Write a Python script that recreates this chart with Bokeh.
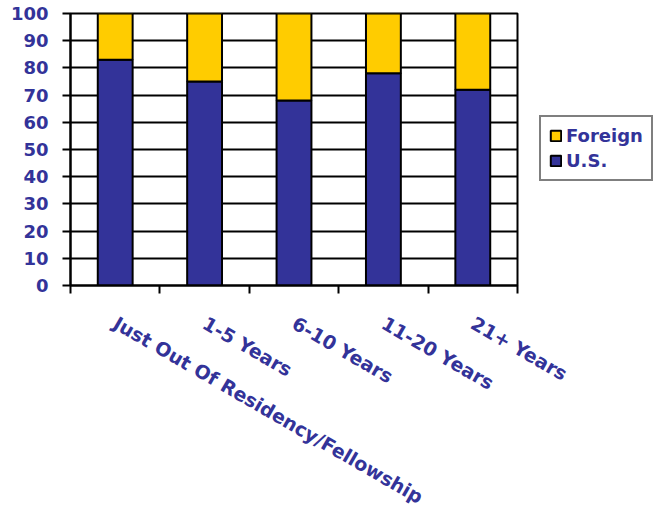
import math
from bokeh.plotting import figure
from bokeh.models import (ColumnDataSource, Range1d, LinearAxis, FixedTicker,
                          Legend, LegendItem, Grid)
from bokeh.embed import file_html
from bokeh.resources import INLINE

categories = ["Just Out Of Residency/Fellowship", "1-5 Years", "6-10 Years",
              "11-20 Years", "21+ Years"]
us = [83, 75, 68, 78, 72]
foreign = [17, 25, 32, 22, 28]
y_ticks = [0, 10, 20, 30, 40, 50, 60, 70, 80, 90, 100]

BLUE = "#333399"
YELLOW = "#FFCC00"
FONT = "DejaVu Sans"

xs = [i + 0.5 for i in range(len(categories))]
src = ColumnDataSource(dict(x=xs, us=us, foreign=foreign))

p = figure(frame_width=447, frame_height=272, output_backend="svg", toolbar_location=None,
           x_range=Range1d(0, len(categories)), y_range=Range1d(0, 100),
           x_axis_type=None, y_axis_type=None,
           min_border_left=70, min_border_top=13, min_border_right=10,
           min_border_bottom=5)
p.outline_line_color = "black"
p.outline_line_width = 2
p.background_fill_color = "white"
p.border_fill_color = "white"

g = Grid(dimension=1, ticker=FixedTicker(ticks=y_ticks), grid_line_color="black",
         grid_line_width=2)
p.add_layout(g)

r = p.vbar_stack(["us", "foreign"], x="x", width=0.39, source=src,
                 fill_color=[BLUE, YELLOW], line_color="black", line_width=2)

# y axis
yax = LinearAxis(ticker=FixedTicker(ticks=y_ticks))
yax.axis_line_color = "black"
yax.axis_line_width = 2
yax.major_tick_line_color = "black"
yax.major_tick_line_width = 2
yax.major_tick_out = 8
yax.major_tick_in = 0
yax.minor_tick_line_color = None
yax.major_label_text_color = BLUE
yax.major_label_text_font = FONT
yax.major_label_text_font_style = "bold"
yax.major_label_text_font_size = "18px"
yax.major_label_standoff = 14
p.add_layout(yax, "left")

# x axis with boundary ticks
bounds = list(range(len(categories) + 1))
xax = LinearAxis(ticker=FixedTicker(ticks=bounds))
xax.major_label_overrides = {b: "" for b in bounds}
xax.axis_line_color = "black"
xax.axis_line_width = 2
xax.major_tick_line_color = "black"
xax.major_tick_line_width = 2
xax.major_tick_out = 8
xax.major_tick_in = 0
xax.minor_tick_line_color = None
xax.major_label_standoff = 0
p.add_layout(xax, "below")

# x axis with category labels at centers
lab = LinearAxis(ticker=FixedTicker(ticks=xs))
lab.major_label_overrides = {x: c for x, c in zip(xs, categories)}
lab.axis_line_color = None
lab.major_tick_line_color = None
lab.minor_tick_line_color = None
lab.major_label_orientation = -math.radians(30)
lab.major_label_text_color = BLUE
lab.major_label_text_font = FONT
lab.major_label_text_font_style = "bold"
lab.major_label_text_font_size = "19px"
lab.major_label_standoff = 22
p.add_layout(lab, "below")

legend = Legend(items=[LegendItem(label="Foreign", renderers=[r[1]]),
                       LegendItem(label="U.S.", renderers=[r[0]])],
                location=(22, 104))
legend.border_line_color = "black"
legend.border_line_width = 2
legend.label_text_color = BLUE
legend.label_text_font = FONT
legend.label_text_font_style = "bold"
legend.label_text_font_size = "18px"
legend.glyph_width = 13
legend.glyph_height = 13
legend.label_standoff = 4
legend.label_height = 20
legend.spacing = 4
legend.padding = 8
legend.margin = 0
legend.background_fill_color = "white"
p.add_layout(legend, "right")

open("out.html", "w").write(file_html(p, INLINE))
